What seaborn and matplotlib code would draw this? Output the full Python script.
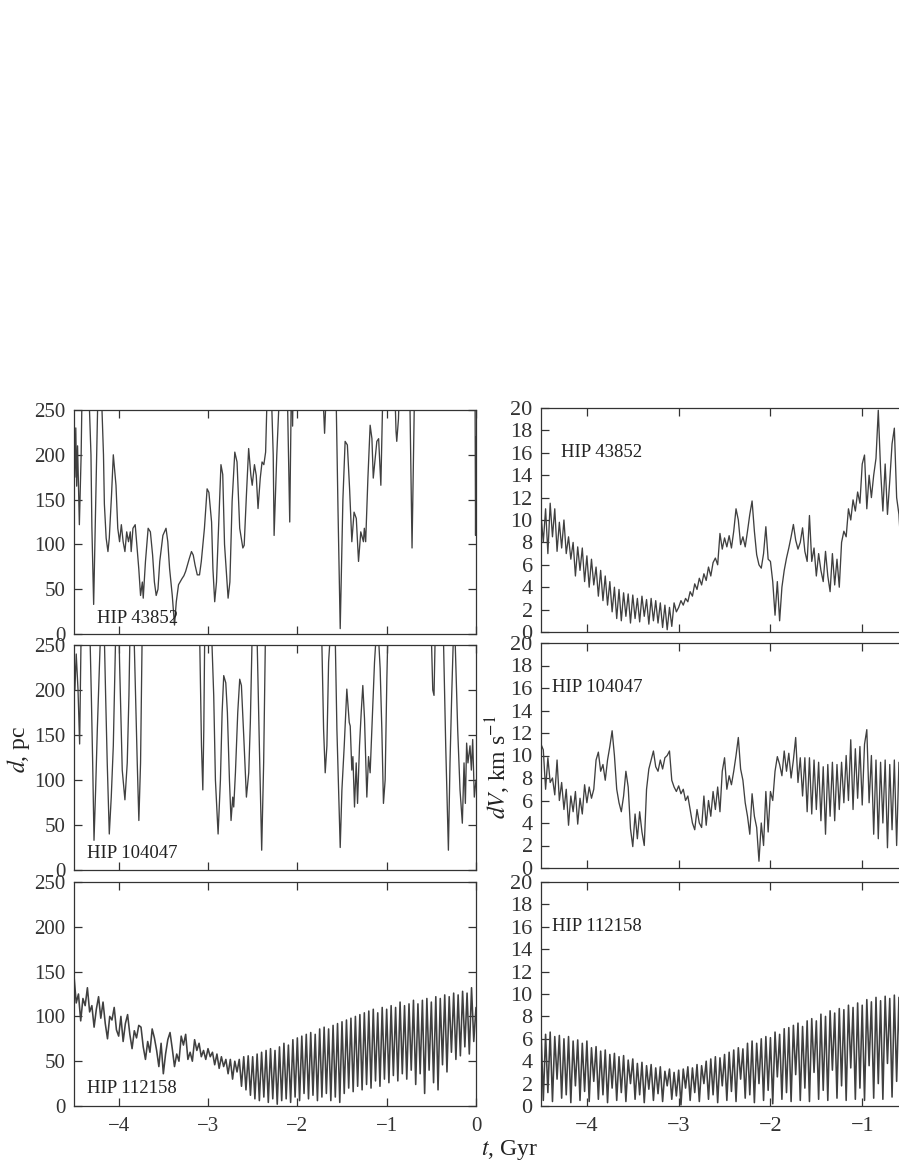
import numpy as np
import pandas as pd
import matplotlib
matplotlib.use('Agg')
import matplotlib.pyplot as plt
import seaborn as sns

# evenly sampled time axis (Gyr) for the dense series
t_grid = np.linspace(-4.5, 0.0, 181)

# HIP 43852, distance d (pc) (values > 250 run off the top)
t_d43852 = [-4.50, -4.49, -4.48, -4.47, -4.46, -4.44, -4.42, -4.41, -4.35, -4.33,
            -4.31, -4.30, -4.28, -4.25, -4.23, -4.21, -4.19, -4.17, -4.16, -4.14,
            -4.12, -4.105, -4.08, -4.06, -4.03, -4.01, -3.99, -3.97, -3.95, -3.93,
            -3.91, -3.89, -3.87, -3.86, -3.84, -3.815, -3.79, -3.775, -3.755, -3.735,
            -3.725, -3.70, -3.67, -3.645, -3.62, -3.60, -3.58, -3.56, -3.54, -3.505,
            -3.47, -3.45, -3.43, -3.40, -3.375, -3.355, -3.33, -3.29, -3.27, -3.25,
            -3.21, -3.185, -3.165, -3.145, -3.12, -3.095, -3.075, -3.04, -3.01, -2.99,
            -2.96, -2.945, -2.925, -2.905, -2.88, -2.855, -2.835, -2.815, -2.775, -2.755,
            -2.73, -2.70, -2.675, -2.645, -2.61, -2.595, -2.57, -2.545, -2.52, -2.505,
            -2.48, -2.46, -2.44, -2.415, -2.395, -2.375, -2.355, -2.34, -2.30, -2.27,
            -2.26, -2.23, -2.20, -2.15, -2.11, -2.085, -2.07, -2.06, -2.053, -2.045,
            -1.75, -1.71, -1.695, -1.68, -1.63, -1.565, -1.545, -1.52, -1.49, -1.465,
            -1.44, -1.415, -1.39, -1.365, -1.34, -1.315, -1.29, -1.26, -1.25, -1.235,
            -1.21, -1.185, -1.165, -1.15, -1.11, -1.09, -1.065, -1.045, -0.96, -0.905,
            -0.895, -0.887, -0.868, -0.85, -0.74, -0.716, -0.69, -0.62, -0.02, -0.01,
            -0.005, 0.0]
d_43852 = [240, 175, 230, 165, 210, 122, 200, 270, 300, 260,
           200, 120, 33, 180, 280, 300, 260, 200, 145, 107,
           92, 107, 155, 200, 166, 118, 103, 122, 103, 92,
           114, 103, 114, 92, 118, 122, 92, 73, 43, 58,
           40, 81, 118, 114, 88, 58, 43, 50, 81, 110,
           118, 103, 73, 43, 10, 36, 55, 62, 65, 70,
           84, 92, 88, 77, 66, 66, 81, 118, 162, 158,
           125, 73, 36, 58, 125, 189, 178, 100, 40, 58,
           148, 203, 192, 118, 96, 99, 155, 207, 177, 166,
           189, 177, 140, 174, 192, 189, 203, 260, 300, 200,
           110, 200, 270, 300, 260, 125, 250, 300, 232, 300,
           300, 260, 224, 260, 300, 260, 140, 6, 150, 215,
           211, 162, 103, 136, 129, 81, 114, 103, 118, 103,
           174, 233, 218, 174, 215, 218, 166, 260, 300, 260,
           226, 215, 240, 300, 260, 96, 260, 300, 300, 250,
           110, 220]

# HIP 104047, distance d (pc)
t_d104047 = [-4.50, -4.49, -4.475, -4.455, -4.437, -4.418, -4.35, -4.321, -4.306, -4.291,
             -4.276, -4.258, -4.239, -4.209, -4.195, -4.165, -4.146, -4.128, -4.105, -4.083,
             -4.060, -4.034, -3.997, -3.990, -3.960, -3.930, -3.904, -3.885, -3.874, -3.830,
             -3.811, -3.792, -3.774, -3.755, -3.744, -3.736, -3.10, -3.092, -3.073, -3.058,
             -3.047, -3.036, -2.962, -2.936, -2.917, -2.887, -2.861, -2.842, -2.824, -2.801,
             -2.783, -2.760, -2.742, -2.723, -2.712, -2.693, -2.667, -2.645, -2.626, -2.600,
             -2.570, -2.544, -2.526, -2.507, -2.451, -2.425, -2.399, -2.377, -2.358, -1.75,
             -1.725, -1.706, -1.688, -1.669, -1.650, -1.632, -1.576, -1.557, -1.520, -1.501,
             -1.475, -1.446, -1.419, -1.408, -1.390, -1.378, -1.360, -1.341, -1.326, -1.304,
             -1.285, -1.267, -1.248, -1.222, -1.203, -1.185, -1.166, -1.136, -1.118, -1.092,
             -1.073, -1.054, -1.036, -1.017, -0.998, -0.987, -0.50, -0.484, -0.470, -0.458,
             -0.365, -0.339, -0.309, -0.291, -0.272, -0.253, -0.235, -0.205, -0.179, -0.153,
             -0.134, -0.119, -0.105, -0.090, -0.067, -0.052, -0.037, -0.019, 0.0]
d_104047 = [250, 200, 240, 200, 140, 280, 300, 260, 194, 119,
            33, 89, 156, 246, 280, 280, 194, 119, 40, 81,
            138, 260, 270, 231, 111, 78, 119, 194, 260, 270,
            194, 119, 55, 119, 212, 270, 300, 250, 138, 89,
            156, 270, 270, 194, 100, 40, 100, 175, 216, 208,
            175, 100, 55, 81, 70, 108, 175, 212, 205, 149,
            81, 108, 164, 255, 260, 138, 22, 119, 255, 300,
            250, 156, 108, 138, 231, 260, 260, 156, 25, 89,
            138, 201, 164, 160, 111, 126, 70, 119, 74, 138,
            175, 205, 168, 81, 126, 108, 156, 231, 260, 260,
            224, 156, 74, 100, 212, 260, 260, 200, 194, 255,
            260, 138, 22, 119, 194, 260, 260, 156, 89, 52,
            119, 74, 141, 119, 138, 111, 145, 81, 100]

# HIP 112158, distance d (pc) on t_grid
d_112158 = [145, 115, 125, 95, 120, 112, 132, 105, 112, 88,
            108, 122, 98, 116, 92, 75, 100, 96, 110, 85,
            78, 100, 72, 92, 102, 80, 64, 84, 76, 90,
            88, 66, 52, 72, 60, 86, 76, 62, 44, 70,
            36, 58, 74, 82, 64, 44, 58, 50, 78, 68,
            80, 52, 60, 50, 74, 62, 70, 55, 62, 52,
            64, 55, 60, 46, 58, 42, 55, 44, 52, 36,
            52, 30, 50, 38, 52, 22, 55, 18, 56, 12,
            55, 8, 58, 6, 60, 10, 62, 4, 64, 8,
            62, 2, 66, 6, 70, 8, 68, 4, 74, 10,
            76, 6, 78, 14, 80, 8, 82, 12, 80, 6,
            86, 10, 88, 14, 86, 6, 90, 10, 92, 4,
            94, 14, 96, 20, 98, 16, 100, 22, 102, 18,
            104, 24, 106, 20, 108, 28, 104, 22, 110, 30,
            108, 26, 112, 34, 110, 28, 116, 36, 112, 30,
            114, 40, 118, 24, 114, 36, 118, 14, 120, 40,
            116, 26, 122, 18, 120, 46, 124, 38, 122, 60,
            126, 52, 124, 56, 128, 66, 126, 58, 132, 72,
            110]

# velocity difference dV (km/s) on t_grid
dv_43852 = [10.5, 8.0, 11.0, 7.0, 11.5, 8.5, 11.0, 7.2, 9.8, 7.5,
            10.0, 7.0, 8.5, 6.5, 8.0, 5.0, 7.6, 5.5, 7.5, 4.5,
            6.8, 4.0, 6.5, 4.2, 5.8, 3.2, 5.5, 2.8, 5.0, 2.4,
            4.5, 1.8, 4.0, 1.2, 3.8, 1.0, 3.5, 1.4, 3.4, 0.8,
            3.3, 1.2, 3.0, 0.9, 3.2, 1.4, 2.9, 0.7, 3.0, 1.0,
            2.8, 0.8, 2.6, 0.4, 2.4, 0.2, 2.2, 0.5, 2.6, 1.8,
            2.2, 2.8, 2.4, 3.0, 2.7, 3.6, 3.2, 4.3, 3.8, 4.8,
            4.2, 5.2, 4.6, 5.8, 5.0, 6.2, 6.6, 6.0, 8.8, 7.4,
            8.4, 7.6, 8.6, 7.5, 9.0, 11.0, 10.0, 7.8, 8.5, 7.6,
            9.0, 10.5, 11.7, 9.0, 6.9, 6.0, 5.7, 7.0, 9.4, 6.5,
            6.3, 4.5, 1.5, 4.5, 1.0, 4.0, 5.5, 6.6, 7.5, 8.5,
            9.6, 8.2, 7.4, 8.0, 9.3, 7.2, 6.3, 10.4, 6.3, 7.5,
            5.0, 7.0, 5.5, 4.5, 7.2, 5.0, 3.6, 7.0, 4.2, 6.5,
            4.0, 8.0, 9.0, 8.5, 11.0, 10.0, 11.8, 10.8, 12.5, 11.5,
            15.0, 15.8, 11.0, 14.0, 12.0, 14.0, 15.5, 19.8, 14.5, 10.8,
            15.0, 10.5, 13.5, 16.8, 18.2, 12.0, 10.5, 7.0, 9.5, 12.0,
            10.0, 11.5, 9.0, 12.0, 10.5, 9.5, 11.0, 10.0, 12.0, 10.5,
            9.0, 11.0, 10.0, 11.5, 9.5, 10.5, 12.0, 10.0, 11.0, 9.5,
            10.5]
dv_104047 = [11.0, 10.5, 7.0, 9.8, 7.6, 8.0, 6.5, 9.6, 6.0, 7.6,
             5.2, 7.0, 3.8, 6.4, 5.0, 6.8, 3.9, 6.2, 4.8, 7.4,
             5.8, 7.2, 6.2, 7.0, 9.6, 10.3, 8.6, 9.2, 7.8, 9.6,
             10.8, 12.2, 10.0, 7.0, 5.8, 5.0, 6.4, 8.6, 7.2, 3.5,
             1.9, 4.8, 2.6, 5.0, 3.2, 2.0, 7.0, 8.8, 9.6, 10.4,
             9.0, 8.6, 9.6, 8.8, 9.8, 10.0, 10.4, 7.8, 7.2, 6.8,
             7.3, 6.6, 7.0, 6.0, 6.4, 5.2, 4.0, 3.4, 5.2, 4.0,
             3.6, 6.4, 3.8, 6.0, 4.6, 6.8, 5.2, 7.2, 5.0, 8.6,
             9.8, 7.0, 8.2, 7.4, 8.6, 10.0, 11.6, 8.8, 7.8, 5.8,
             4.6, 3.0, 6.6, 4.6, 3.6, 0.6, 4.0, 2.0, 6.8, 3.2,
             6.8, 6.0, 8.6, 9.9, 9.2, 8.2, 10.4, 8.6, 10.2, 8.0,
             9.6, 11.6, 7.6, 9.8, 6.4, 9.8, 5.0, 9.8, 4.8, 9.6,
             5.2, 9.4, 4.2, 9.0, 3.0, 9.2, 4.6, 9.4, 4.2, 9.2,
             5.2, 9.4, 5.8, 10.0, 6.0, 11.4, 5.2, 10.6, 6.2, 10.8,
             5.6, 11.0, 12.3, 5.8, 10.0, 3.0, 9.6, 2.6, 9.4, 4.0,
             9.6, 1.8, 9.2, 3.4, 9.6, 2.0, 9.4, 4.0, 9.5, 3.0,
             9.6, 2.8, 9.4, 3.5, 9.8, 2.5, 9.2, 3.8, 9.6, 2.6,
             9.4, 3.2, 9.8, 2.4, 9.5, 3.6, 9.7, 2.8, 9.3, 3.4,
             9.5]
dv_112158 = [6.8, 0.5, 6.4, 1.2, 6.6, 0.4, 6.2, 2.4, 6.3, 0.7,
             6.0, 1.0, 6.2, 0.3, 5.8, 1.8, 5.9, 0.5, 5.6, 1.3,
             5.8, 0.4, 5.2, 2.2, 5.3, 0.6, 4.9, 1.0, 5.0, 0.3,
             4.6, 1.6, 4.7, 0.5, 4.4, 1.2, 4.5, 0.4, 4.1, 2.0,
             4.2, 0.6, 3.8, 1.0, 3.9, 0.3, 3.6, 1.5, 3.7, 0.5,
             3.4, 1.1, 3.5, 0.4, 3.1, 1.8, 3.3, 0.6, 3.0, 0.9,
             3.2, 0.1, 3.3, 1.6, 3.5, 0.5, 3.4, 1.2, 3.7, 0.4,
             3.6, 2.0, 4.0, 0.6, 4.2, 1.0, 4.4, 0.3, 4.3, 1.8,
             4.6, 0.5, 4.8, 1.3, 5.0, 0.4, 5.2, 2.4, 5.1, 0.7,
             5.6, 1.0, 5.8, 0.3, 5.6, 2.0, 6.0, 0.5, 6.2, 1.4,
             6.1, 0.2, 6.6, 2.6, 6.4, 0.6, 6.9, 1.2, 7.0, 0.4,
             7.2, 2.8, 7.4, 0.5, 7.1, 1.6, 7.6, 0.4, 7.8, 3.0,
             7.6, 0.6, 8.2, 1.4, 8.0, 0.5, 8.5, 3.2, 8.3, 0.7,
             8.7, 1.8, 8.6, 0.5, 9.0, 3.4, 8.8, 0.6, 9.2, 1.6,
             9.0, 0.5, 9.5, 3.6, 9.3, 0.7, 9.7, 2.0, 9.4, 0.6,
             9.8, 3.8, 9.6, 0.8, 9.9, 2.2, 9.7, 0.6, 10.0, 4.0,
             9.9, 0.8, 10.1, 2.4, 9.8, 0.7, 10.3, 4.2, 10.0, 0.9,
             10.4, 2.6, 10.2, 0.8, 10.5, 4.4, 10.3, 1.0, 10.6, 2.8,
             10.4]

stars = ['HIP 43852', 'HIP 104047', 'HIP 112158']

sns.set_style('ticks')
plt.rcParams['font.family'] = ['Liberation Serif', 'DejaVu Serif']
plt.rcParams['mathtext.fontset'] = 'stix'
plt.rcParams['axes.edgecolor'] = '#333333'
plt.rcParams['xtick.color'] = '#333333'
plt.rcParams['ytick.color'] = '#333333'
plt.rcParams['text.color'] = '#222222'

fig = plt.figure(figsize=(8.99, 11.63), dpi=100)
W, H = 899.0, 1163.0

# panel rectangles in pixels: (left, top, right, bottom)
left_boxes = [(74, 410, 476, 634), (74, 645, 476, 870), (74, 882, 476, 1106)]
right_boxes = [(541, 408, 954, 632), (541, 643, 954, 868), (541, 882, 954, 1106)]


def make_ax(box):
    l, t, r, b = box
    return fig.add_axes([l / W, 1 - b / H, (r - l) / W, (b - t) / H])


line_kw = dict(color='0.25', sort=False, errorbar=None)

left_data = [(t_d43852, d_43852), (t_d104047, d_104047), (t_grid, d_112158)]
right_data = [dv_43852, dv_104047, dv_112158]
left_text_pos = [(0.057, 0.07), (0.032, 0.075), (0.032, 0.08)]
right_text_pos = [(0.048, 0.80), (0.027, 0.80), (0.027, 0.80)]

for k in range(3):
    lw = 1.15 if k == 2 else 0.95

    # distance panels
    ax = make_ax(left_boxes[k])
    df = pd.DataFrame({'t': left_data[k][0], 'd': left_data[k][1]})
    sns.lineplot(data=df, x='t', y='d', ax=ax, linewidth=lw, **line_kw)
    ax.set_xlim(-4.5, 0)
    ax.set_ylim(0, 250)
    ax.set_yticks([0, 50, 100, 150, 200, 250])
    ax.set_xticks([-4, -3, -2, -1, 0])
    ax.tick_params(direction='in', top=True, right=True, length=6, width=0.9,
                   labelsize=15, pad=6, labelbottom=(k == 2))
    ax.tick_params(axis='x', pad=8)
    ax.set_xlabel('')
    ax.set_ylabel('')
    for s in ax.spines.values():
        s.set_linewidth(0.9)
    ax.text(left_text_pos[k][0], left_text_pos[k][1], stars[k], transform=ax.transAxes,
            fontsize=13.5, ha='left', va='center')

    # velocity panels (cropped on the right like the original)
    ax2 = make_ax(right_boxes[k])
    df2 = pd.DataFrame({'t': t_grid, 'dv': right_data[k]})
    sns.lineplot(data=df2, x='t', y='dv', ax=ax2, linewidth=lw, **line_kw)
    ax2.set_xlim(-4.5, 0)
    ax2.set_ylim(0, 20)
    ax2.set_yticks(range(0, 21, 2))
    ax2.set_xticks([-4, -3, -2, -1])
    ax2.tick_params(direction='in', top=True, right=True, length=6, width=0.9,
                    labelsize=16, pad=6, labelbottom=(k == 2))
    ax2.tick_params(axis='x', pad=8)
    ax2.set_xlabel('')
    ax2.set_ylabel('')
    for s in ax2.spines.values():
        s.set_linewidth(0.9)
    ax2.text(right_text_pos[k][0], right_text_pos[k][1], stars[k], transform=ax2.transAxes,
             fontsize=13.5, ha='left', va='center')

fig.text(18 / W, 1 - 749 / H, '$d$, pc', rotation=90, fontsize=17, ha='center', va='center')
fig.text(498 / W, 1 - 767 / H, '$dV$, km s$^{-1}$', rotation=90, fontsize=17,
         ha='center', va='center')
fig.text(509 / W, 1 - 1150 / H, '$t$, Gyr', fontsize=17, ha='center', va='center')

fig.savefig('out.png', dpi=100)
